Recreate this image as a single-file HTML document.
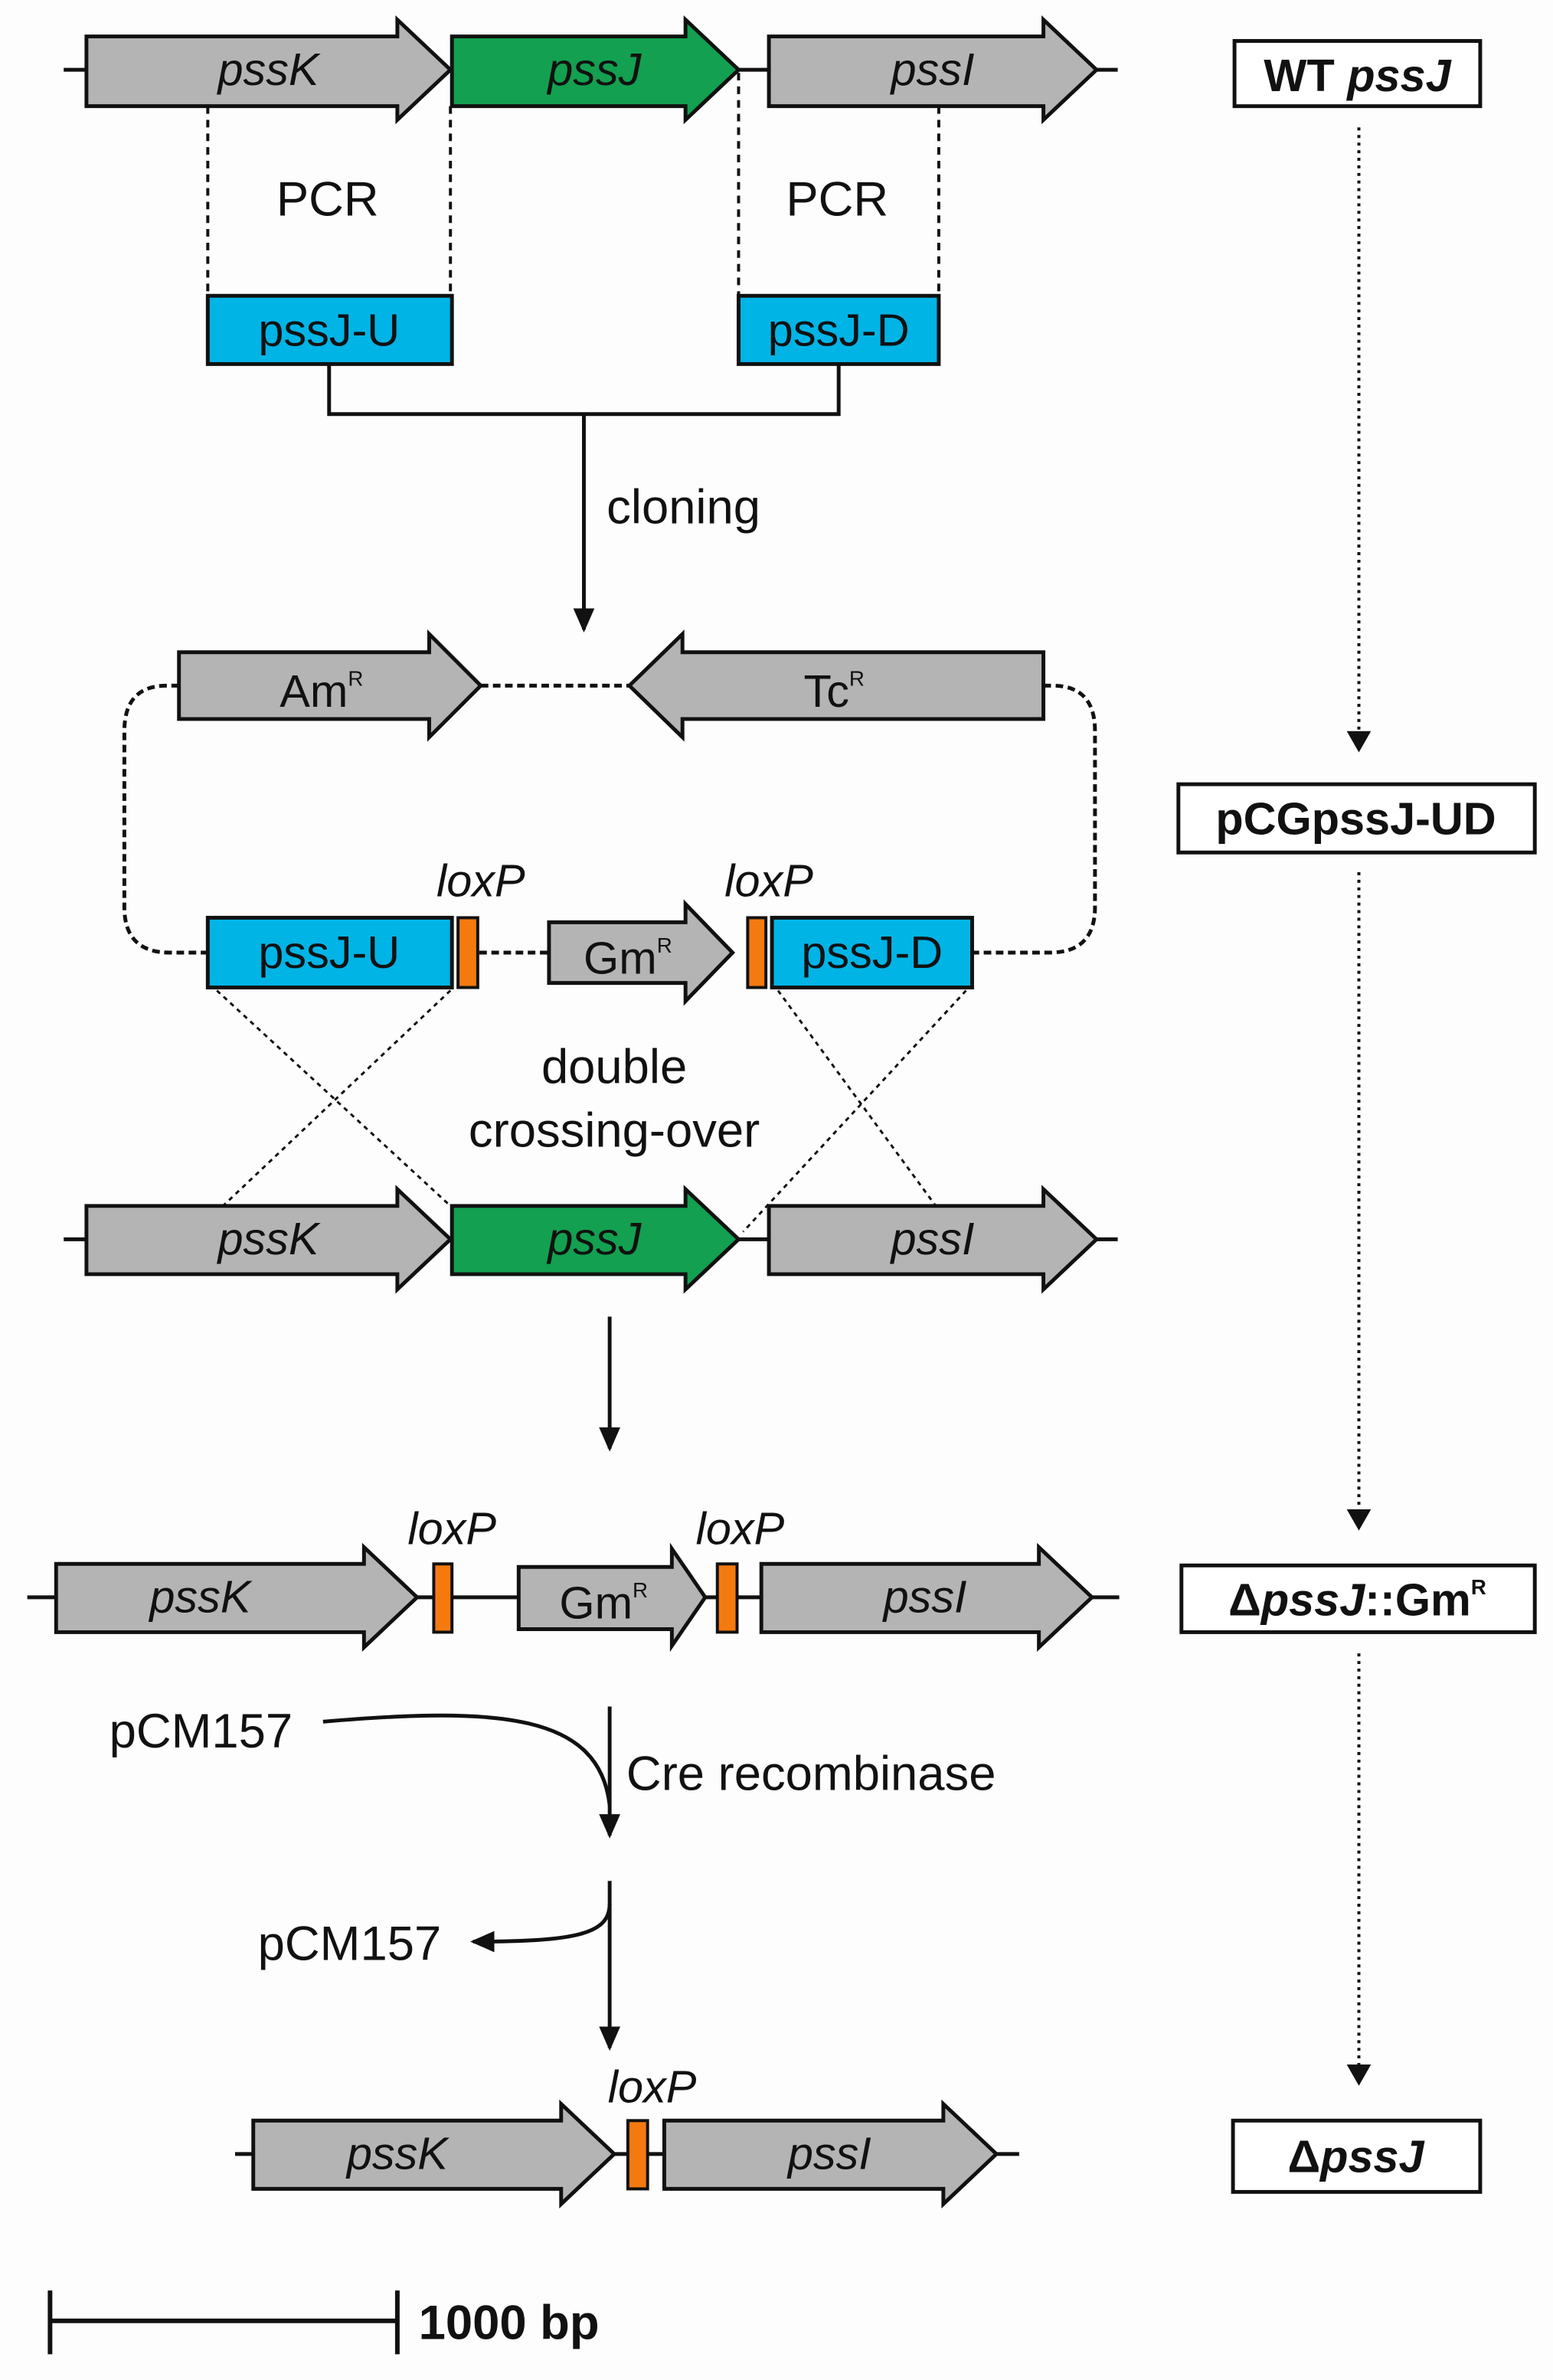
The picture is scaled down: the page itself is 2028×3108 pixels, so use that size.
<!DOCTYPE html>
<html><head><meta charset="utf-8"><style>
html,body{margin:0;padding:0;background:#fdfdfd}
svg{display:block}
text{font-family:"Liberation Sans",Arial,sans-serif;fill:#111}
.g{fill:#b4b4b4;stroke:#111;stroke-width:2.5}
.gr{fill:#13a050;stroke:#111;stroke-width:2.5}
.b{fill:#00b4e6;stroke:#111;stroke-width:2.5}
.o{fill:#f47a10;stroke:#111;stroke-width:2}
.ln{stroke:#111;stroke-width:2.5;fill:none}
.it{font-style:italic}
</style></head><body>
<svg width="2028" height="3108" viewBox="0 0 1024 1569" preserveAspectRatio="none" xmlns="http://www.w3.org/2000/svg">
<defs><marker id="ah" markerWidth="10" markerHeight="10" refX="8" refY="5" orient="auto" markerUnits="userSpaceOnUse"><path d="M0,0 L10,5 L0,10 z" fill="#111"/></marker>
<marker id="ah2" markerWidth="16" markerHeight="16" refX="14" refY="8" orient="auto" markerUnits="userSpaceOnUse"><path d="M0,1 L16,8 L0,15 z" fill="#111"/></marker></defs>
<rect width="1024" height="1569" fill="#fdfdfd"/>

<!-- Row 1 -->
<line class="ln" x1="42" y1="46" x2="737" y2="46"/>
<polygon class="g" points="57,24 262,24 262,13 297,46 262,79 262,70 57,70"/>
<polygon class="gr" points="298,24 452,24 452,13 487,46 452,79 452,70 298,70"/>
<polygon class="g" points="507,24 688,24 688,13 723,46 688,79 688,70 507,70"/>
<text class="it" x="177" y="56" font-size="30" text-anchor="middle">pssK</text>
<text class="it" x="392" y="56" font-size="30" text-anchor="middle">pssJ</text>
<text class="it" x="615" y="56" font-size="30" text-anchor="middle">pssI</text>
<g stroke="#111" stroke-width="2" stroke-dasharray="5,4">
<line x1="137" y1="70" x2="137" y2="195"/><line x1="297" y1="70" x2="297" y2="195"/>
<line x1="487" y1="48" x2="487" y2="195"/><line x1="619" y1="70" x2="619" y2="195"/></g>
<text x="216" y="142" font-size="32" text-anchor="middle">PCR</text>
<text x="552" y="142" font-size="32" text-anchor="middle">PCR</text>
<rect class="b" x="137" y="195" width="161" height="45"/>
<rect class="b" x="487" y="195" width="132" height="45"/>
<text x="217" y="228" font-size="30" text-anchor="middle">pssJ-U</text>
<text x="553" y="228" font-size="30" text-anchor="middle">pssJ-D</text>
<polyline class="ln" points="217,240 217,273 553,273 553,240"/>
<line class="ln" x1="385" y1="273" x2="385" y2="415" marker-end="url(#ah2)"/>
<text x="400" y="345" font-size="32">cloning</text>

<!-- plasmid -->
<line x1="317" y1="452" x2="415" y2="452" stroke="#111" stroke-width="2.5" stroke-dasharray="5,3"/>
<polygon class="g" points="118,430 283,430 283,418 317,452 283,486 283,474 118,474"/>
<polygon class="g" points="688,430 450,430 450,418 415,452 450,486 450,474 688,474"/>
<text x="212" y="466" font-size="30" text-anchor="middle">Am<tspan font-size="14" dy="-14">R</tspan></text>
<text x="550" y="466" font-size="30" text-anchor="middle">Tc<tspan font-size="14" dy="-14">R</tspan></text>
<g fill="none" stroke="#111" stroke-width="2.5" stroke-dasharray="5,3">
<path d="M118,452 L110,452 Q82,452 82,482 L82,598 Q82,628 112,628 L137,628"/>
<path d="M688,452 L694,452 Q722,452 722,482 L722,598 Q722,628 692,628 L641,628"/>
<line x1="316" y1="628" x2="362" y2="628"/></g>
<rect class="b" x="137" y="605" width="161" height="46"/>
<rect class="o" x="302" y="605" width="13" height="46"/>
<polygon class="g" points="362,608 452,608 452,596 483,628 452,660 452,648 362,648"/>
<rect class="o" x="493" y="605" width="12" height="46"/>
<rect class="b" x="509" y="605" width="132" height="46"/>
<text x="217" y="638" font-size="30" text-anchor="middle">pssJ-U</text>
<text x="414" y="642" font-size="30" text-anchor="middle">Gm<tspan font-size="14" dy="-14">R</tspan></text>
<text x="575" y="638" font-size="30" text-anchor="middle">pssJ-D</text>
<text class="it" x="317" y="591" font-size="30" text-anchor="middle">loxP</text>
<text class="it" x="507" y="591" font-size="30" text-anchor="middle">loxP</text>
<g stroke="#111" stroke-width="1.5" stroke-dasharray="3,3">
<line x1="143" y1="653" x2="297" y2="795"/><line x1="297" y1="653" x2="147" y2="795"/>
<line x1="513" y1="653" x2="617" y2="795"/><line x1="637" y1="653" x2="490" y2="812"/></g>
<text x="405" y="714" font-size="32" text-anchor="middle">double</text>
<text x="405" y="756" font-size="32" text-anchor="middle">crossing-over</text>

<!-- Row 3 -->
<line class="ln" x1="42" y1="817" x2="737" y2="817"/>
<polygon class="g" points="57,795 262,795 262,784 297,817 262,850 262,840 57,840"/>
<polygon class="gr" points="298,795 452,795 452,784 487,817 452,850 452,840 298,840"/>
<polygon class="g" points="507,795 688,795 688,784 723,817 688,850 688,840 507,840"/>
<text class="it" x="177" y="827" font-size="30" text-anchor="middle">pssK</text>
<text class="it" x="392" y="827" font-size="30" text-anchor="middle">pssJ</text>
<text class="it" x="615" y="827" font-size="30" text-anchor="middle">pssI</text>
<line class="ln" x1="402" y1="868" x2="402" y2="955" marker-end="url(#ah2)"/>

<!-- Row 4 -->
<line class="ln" x1="18" y1="1053" x2="738" y2="1053"/>
<polygon class="g" points="37,1031 240,1031 240,1020 275,1053 240,1086 240,1076 37,1076"/>
<rect class="o" x="286" y="1031" width="12" height="45"/>
<polygon class="g" points="342,1033 443,1033 443,1021 465,1053 443,1085 443,1074 342,1074"/>
<rect class="o" x="473" y="1031" width="13" height="45"/>
<polygon class="g" points="502,1031 685,1031 685,1020 720,1053 685,1086 685,1076 502,1076"/>
<text class="it" x="132" y="1063" font-size="30" text-anchor="middle">pssK</text>
<text x="398" y="1067" font-size="30" text-anchor="middle">Gm<tspan font-size="14" dy="-14">R</tspan></text>
<text class="it" x="610" y="1063" font-size="30" text-anchor="middle">pssI</text>
<text class="it" x="298" y="1018" font-size="30" text-anchor="middle">loxP</text>
<text class="it" x="488" y="1018" font-size="30" text-anchor="middle">loxP</text>

<line class="ln" x1="402" y1="1125" x2="402" y2="1210" marker-end="url(#ah2)"/>
<path class="ln" d="M213,1135 C330,1125 395,1130 402,1190"/>
<text x="72" y="1152" font-size="32">pCM157</text>
<text x="413" y="1180" font-size="32">Cre recombinase</text>
<line class="ln" x1="402" y1="1240" x2="402" y2="1350" marker-end="url(#ah2)"/>
<path class="ln" d="M402,1255 C402,1275 380,1280 312,1280" marker-end="url(#ah2)"/>
<text x="170" y="1292" font-size="32">pCM157</text>

<!-- Row 5 -->
<line class="ln" x1="155" y1="1420" x2="672" y2="1420"/>
<polygon class="g" points="167,1398 370,1398 370,1387 405,1420 370,1453 370,1443 167,1443"/>
<rect class="o" x="414" y="1398" width="13" height="45"/>
<polygon class="g" points="438,1398 622,1398 622,1387 657,1420 622,1453 622,1443 438,1443"/>
<text class="it" x="262" y="1430" font-size="30" text-anchor="middle">pssK</text>
<text class="it" x="547" y="1430" font-size="30" text-anchor="middle">pssI</text>
<text class="it" x="430" y="1386" font-size="30" text-anchor="middle">loxP</text>

<!-- scale -->
<line x1="33" y1="1530" x2="262" y2="1530" stroke="#111" stroke-width="3"/>
<line x1="33" y1="1510" x2="33" y2="1552" stroke="#111" stroke-width="3"/>
<line x1="262" y1="1510" x2="262" y2="1552" stroke="#111" stroke-width="3"/>
<text x="276" y="1542" font-size="32" font-weight="bold">1000 bp</text>

<!-- right column -->
<g fill="#fff" stroke="#111" stroke-width="2.5">
<rect x="814" y="27" width="162" height="43"/>
<rect x="777" y="517" width="235" height="45"/>
<rect x="779" y="1032" width="233" height="44"/>
<rect x="813" y="1398" width="163" height="47"/></g>
<text x="895" y="60" font-size="30" font-weight="bold" text-anchor="middle">WT <tspan font-style="italic">pssJ</tspan></text>
<text x="894" y="550" font-size="30" font-weight="bold" text-anchor="middle">pCGpssJ-UD</text>
<text x="895" y="1065" font-size="30" font-weight="bold" text-anchor="middle">Δ<tspan font-style="italic">pssJ</tspan>::Gm<tspan font-size="14" dy="-14">R</tspan></text>
<text x="894" y="1432" font-size="30" font-weight="bold" text-anchor="middle">Δ<tspan font-style="italic">pssJ</tspan></text>
<g stroke="#111" stroke-width="2" stroke-dasharray="2,3">
<line x1="896" y1="84" x2="896" y2="485"/><line x1="896" y1="575" x2="896" y2="998"/><line x1="896" y1="1090" x2="896" y2="1365"/></g>
<g fill="#111"><path d="M888,482 L904,482 L896,496 z"/><path d="M888,995 L904,995 L896,1009 z"/><path d="M888,1361 L904,1361 L896,1375 z"/></g>
</svg>
</body></html>
